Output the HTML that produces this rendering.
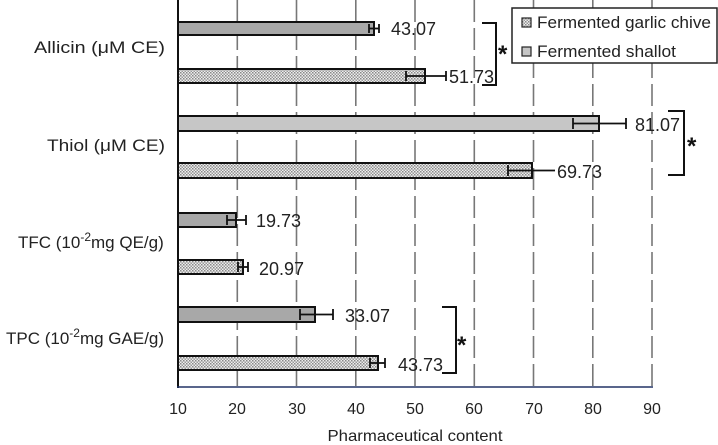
<!DOCTYPE html>
<html><head><meta charset="utf-8"><style>
html,body{margin:0;padding:0;background:#fff;}
svg{display:block;font-family:"Liberation Sans",sans-serif;}
</style></head><body>
<svg width="718" height="445" viewBox="0 0 718 445" xmlns="http://www.w3.org/2000/svg">
<defs>
<pattern id="dot" width="3" height="3" patternUnits="userSpaceOnUse">
<rect width="3" height="3" fill="#eee"/>
<rect width="1.5" height="1.5" fill="#888"/>
<rect x="1.5" y="1.5" width="1.5" height="1.5" fill="#999"/>
</pattern>
</defs>
<g stroke="#777" stroke-width="1.6" stroke-dasharray="22,6">
<line x1="237.3" y1="0" x2="237.3" y2="387"/>
<line x1="296.5" y1="0" x2="296.5" y2="387"/>
<line x1="355.8" y1="0" x2="355.8" y2="387"/>
<line x1="415" y1="0" x2="415" y2="387"/>
<line x1="474.3" y1="0" x2="474.3" y2="387"/>
<line x1="533.5" y1="0" x2="533.5" y2="387"/>
<line x1="592.8" y1="0" x2="592.8" y2="387"/>
<line x1="652" y1="0" x2="652" y2="387"/>
</g>
<g stroke="#111" stroke-width="2">
<rect x="178" y="22" width="196" height="13" fill="#a8a8a8"/>
<rect x="178" y="69" width="247" height="14" fill="url(#dot)"/>
<rect x="178" y="116" width="421" height="15" fill="#c6c6c6"/>
<rect x="178" y="163" width="354" height="15" fill="url(#dot)"/>
<rect x="178" y="213" width="58" height="14" fill="#a8a8a8"/>
<rect x="178" y="260" width="65" height="14" fill="url(#dot)"/>
<rect x="178" y="307" width="137" height="15" fill="#a8a8a8"/>
<rect x="178" y="356" width="200" height="14" fill="url(#dot)"/>
</g>
<g stroke="#111" stroke-width="1.8">
<line x1="369" y1="28.5" x2="379" y2="28.5"/><line x1="369" y1="24" x2="369" y2="33"/><line x1="379" y1="24" x2="379" y2="33"/>
<line x1="406" y1="76" x2="446" y2="76"/><line x1="406" y1="71" x2="406" y2="81"/><line x1="446" y1="71" x2="446" y2="81"/>
<line x1="573" y1="123.5" x2="626" y2="123.5"/><line x1="573" y1="118" x2="573" y2="129"/><line x1="626" y1="118" x2="626" y2="129"/>
<line x1="508" y1="170.5" x2="555" y2="170.5"/><line x1="508" y1="165" x2="508" y2="176"/>
<line x1="227" y1="220" x2="246" y2="220"/><line x1="227" y1="215" x2="227" y2="225"/><line x1="246" y1="215" x2="246" y2="225"/>
<line x1="238" y1="267" x2="248" y2="267"/><line x1="238" y1="262" x2="238" y2="272"/><line x1="248" y1="262" x2="248" y2="272"/>
<line x1="300" y1="314.5" x2="333" y2="314.5"/><line x1="300" y1="309" x2="300" y2="320"/><line x1="333" y1="309" x2="333" y2="320"/>
<line x1="370" y1="363" x2="385" y2="363"/><line x1="370" y1="358" x2="370" y2="368"/><line x1="385" y1="358" x2="385" y2="368"/>
</g>
<line x1="178" y1="0" x2="178" y2="388" stroke="#111" stroke-width="2"/>
<line x1="177" y1="387" x2="653" y2="387" stroke="#223366" stroke-width="1.5"/>
<g font-size="18" fill="#222">
<text x="391" y="35">43.07</text>
<text x="449" y="83">51.73</text>
<text x="635" y="131">81.07</text>
<text x="557" y="178">69.73</text>
<text x="256" y="227">19.73</text>
<text x="259" y="275">20.97</text>
<text x="345" y="322">33.07</text>
<text x="398" y="371">43.73</text>
</g>
<g font-size="17" fill="#222">
<text x="34" y="53" textLength="131" lengthAdjust="spacingAndGlyphs">Allicin (μM CE)</text>
<text x="47" y="151" textLength="118" lengthAdjust="spacingAndGlyphs">Thiol (μM CE)</text>
<text x="18" y="248">TFC (10<tspan dy="-7" font-size="12">-2</tspan><tspan dy="7">mg QE/g)</tspan></text>
<text x="6" y="344">TPC (10<tspan dy="-7" font-size="12">-2</tspan><tspan dy="7">mg GAE/g)</tspan></text>
</g>
<g fill="none" stroke="#111" stroke-width="2">
<polyline points="482,23 496,23 496,85 482,85"/>
<polyline points="668,111 684,111 684,175 668,175"/>
<polyline points="442,307 456,307 456,373 442,373"/>
</g>
<g font-size="24" fill="#111" font-weight="bold">
<text x="498" y="62">*</text>
<text x="687" y="154">*</text>
<text x="457" y="353">*</text>
</g>
<rect x="512" y="8" width="205" height="55" fill="#fff" stroke="#222" stroke-width="1.5"/>
<rect x="522" y="18" width="9" height="9" fill="url(#dot)" stroke="#222" stroke-width="1.2"/>
<rect x="522" y="47" width="9" height="9" fill="#c6c6c6" stroke="#222" stroke-width="1.2"/>
<g font-size="17" fill="#222">
<text x="537" y="28" textLength="174" lengthAdjust="spacingAndGlyphs">Fermented garlic chive</text>
<text x="537" y="57" textLength="139" lengthAdjust="spacingAndGlyphs">Fermented shallot</text>
</g>
<g font-size="16" fill="#222" text-anchor="middle">
<text x="178" y="414">10</text><text x="237" y="414">20</text><text x="297" y="414">30</text>
<text x="356" y="414">40</text><text x="415" y="414">50</text><text x="474" y="414">60</text>
<text x="534" y="414">70</text><text x="593" y="414">80</text><text x="652" y="414">90</text>
<text x="415" y="441" textLength="175" lengthAdjust="spacingAndGlyphs">Pharmaceutical content</text>
</g>
</svg>
</body></html>
